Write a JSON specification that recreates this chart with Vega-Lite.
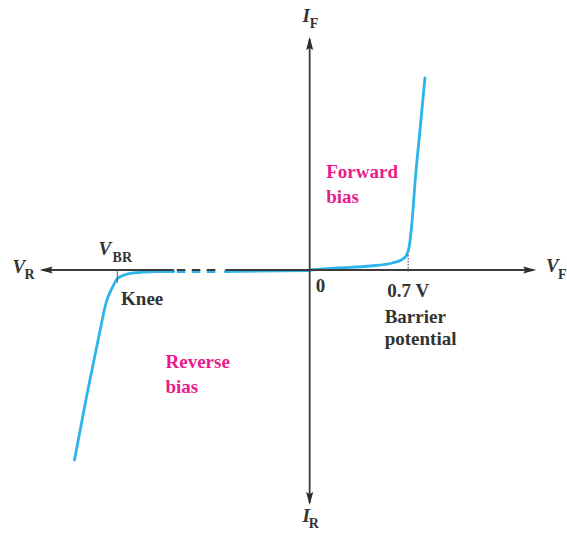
{
  "$schema": "https://vega.github.io/schema/vega-lite/v6.json",
  "width": 567,
  "height": 533,
  "autosize": {"type": "fit", "contains": "padding"},
  "padding": 0,
  "background": "white",
  "config": {"view": {"stroke": null}},
  "datasets": {
    "curve": [
      {"series": "forward", "x": 0, "y": 0},
      {"series": "forward", "x": 0.198, "y": 0.2},
      {"series": "forward", "x": 0.431, "y": 0.4},
      {"series": "forward", "x": 0.587, "y": 0.7},
      {"series": "forward", "x": 0.65, "y": 1.0},
      {"series": "forward", "x": 0.685, "y": 1.4},
      {"series": "forward", "x": 0.707, "y": 2.3},
      {"series": "forward", "x": 0.724, "y": 4.3},
      {"series": "forward", "x": 0.752, "y": 9.3},
      {"series": "forward", "x": 0.786, "y": 14.3},
      {"series": "forward", "x": 0.819, "y": 19.2},
      {"series": "leakage", "x": -0.599, "y": -0.15},
      {"series": "leakage", "x": 0, "y": -0.05},
      {"series": "breakdown", "x": -1.671, "y": -19.0},
      {"series": "breakdown", "x": -1.58, "y": -12.3},
      {"series": "breakdown", "x": -1.484, "y": -5.7},
      {"series": "breakdown", "x": -1.447, "y": -3.3},
      {"series": "breakdown", "x": -1.4, "y": -1.7},
      {"series": "breakdown", "x": -1.365, "y": -0.85},
      {"series": "breakdown", "x": -1.306, "y": -0.45},
      {"series": "breakdown", "x": -1.212, "y": -0.25},
      {"series": "breakdown", "x": -1.1, "y": -0.17},
      {"series": "breakdown", "x": -0.965, "y": -0.15}
    ],
    "curveBreak": [
      {"series": "scale break", "x": -0.944, "y": -0.15},
      {"series": "scale break", "x": -0.669, "y": -0.15}
    ],
    "axes": [
      {"part": "V axis left", "x": -1.9, "x2": -0.965, "y": 0, "y2": 0},
      {"part": "V axis right", "x": -0.599, "x2": 1.59, "y": 0, "y2": 0},
      {"part": "I axis", "x": 0, "x2": 0, "y": -23.3, "y2": 23.1}
    ],
    "axisBreak": [
      {"part": "V axis break", "x": -0.944, "x2": -0.669, "y": 0, "y2": 0}
    ],
    "arrows": [
      {"end": "VF", "direction": "right", "x": 1.564, "y": 0},
      {"end": "VR", "direction": "left", "x": -1.872, "y": 0},
      {"end": "IF", "direction": "up", "x": 0, "y": 22.65},
      {"end": "IR", "direction": "down", "x": 0, "y": -22.85}
    ],
    "markers": [
      {"name": "breakdown voltage", "x": -1.367, "x2": -1.367, "y": 0, "y2": -1.3}
    ],
    "barrier": [
      {"name": "barrier potential", "x": 0.7, "x2": 0.7, "y": 1.5, "y2": -0.2}
    ],
    "labels": [
      {"kind": "note", "text": "Knee", "x": -1.34, "y": -3.5},
      {"kind": "note", "text": "0", "x": 0.043, "y": -2.2},
      {"kind": "note", "text": "Barrier", "x": 0.533, "y": -5.3},
      {"kind": "note", "text": "potential", "x": 0.533, "y": -7.5},
      {"kind": "region", "text": "Forward", "x": 0.118, "y": 9.2},
      {"kind": "region", "text": "bias", "x": 0.118, "y": 6.7},
      {"kind": "region", "text": "Reverse", "x": -1.024, "y": -9.8},
      {"kind": "region", "text": "bias", "x": -1.024, "y": -12.3},
      {"kind": "symbol", "text": "V", "x": -1.5, "y": 1.5},
      {"kind": "subscript", "text": "BR", "x": -1.4, "y": 0.85},
      {"kind": "symbol", "text": "V", "x": -2.112, "y": -0.3},
      {"kind": "subscript", "text": "R", "x": -2.026, "y": -0.85},
      {"kind": "symbol", "text": "V", "x": 1.68, "y": -0.2},
      {"kind": "subscript", "text": "F", "x": 1.765, "y": -0.85},
      {"kind": "symbol", "text": "I", "x": -0.05, "y": 24.8},
      {"kind": "subscript", "text": "F", "x": 0.001, "y": 24.25},
      {"kind": "symbol", "text": "I", "x": -0.05, "y": -25.2},
      {"kind": "subscript", "text": "R", "x": -0.006, "y": -25.75}
    ],
    "valueLabels": [
      {"text": "0.7 V", "x": 0.7, "y": -2.7}
    ]
  },
  "encoding": {
    "x": {"field": "x", "type": "quantitative", "scale": {"domain": [-2.2, 1.8], "nice": false, "zero": false}, "axis": null},
    "y": {"field": "y", "type": "quantitative", "scale": {"domain": [-26.3, 27.0], "nice": false, "zero": false}, "axis": null}
  },
  "layer": [
    {
      "data": {"name": "curve"},
      "mark": {"type": "line", "interpolate": "monotone", "color": "#2db4ec", "strokeWidth": 2.8, "strokeCap": "round"},
      "encoding": {"detail": {"field": "series", "type": "nominal"}}
    },
    {
      "data": {"name": "curveBreak"},
      "mark": {"type": "line", "color": "#2db4ec", "strokeWidth": 2.8, "strokeDash": [8.5, 6.5]},
      "encoding": {"detail": {"field": "series", "type": "nominal"}}
    },
    {
      "data": {"name": "axes"},
      "mark": {"type": "rule", "color": "#3c3c3c", "strokeWidth": 1.8},
      "encoding": {"x2": {"field": "x2"}, "y2": {"field": "y2"}}
    },
    {
      "data": {"name": "axisBreak"},
      "mark": {"type": "rule", "color": "#3c3c3c", "strokeWidth": 1.8, "strokeDash": [8.5, 6.5]},
      "encoding": {"x2": {"field": "x2"}, "y2": {"field": "y2"}}
    },
    {
      "data": {"name": "markers"},
      "mark": {"type": "rule", "color": "#555555", "strokeWidth": 1},
      "encoding": {"x2": {"field": "x2"}, "y2": {"field": "y2"}}
    },
    {
      "data": {"name": "barrier"},
      "mark": {"type": "rule", "color": "#555555", "strokeWidth": 1.2, "strokeDash": [1.5, 1.5]},
      "encoding": {"x2": {"field": "x2"}, "y2": {"field": "y2"}}
    },
    {
      "data": {"name": "arrows"},
      "mark": {"type": "point", "filled": true, "color": "#2e2e2e", "opacity": 1, "size": 169},
      "encoding": {
        "shape": {
          "field": "direction",
          "type": "nominal",
          "scale": {
            "domain": ["right", "left", "up", "down"],
            "range": [
              "M1,0L-1,-0.55L-0.7,0L-1,0.55Z",
              "M-1,0L1,-0.55L0.7,0L1,0.55Z",
              "M0,-1L-0.55,1L0,0.7L0.55,1Z",
              "M0,1L-0.55,-1L0,-0.7L0.55,-1Z"
            ]
          },
          "legend": null
        }
      }
    },
    {
      "data": {"name": "labels"},
      "transform": [{"filter": "datum.kind === 'note'"}],
      "mark": {"type": "text", "align": "left", "baseline": "alphabetic", "font": "Liberation Serif", "fontWeight": "bold", "fontSize": 19, "color": "#333333"},
      "encoding": {"text": {"field": "text"}}
    },
    {
      "data": {"name": "valueLabels"},
      "mark": {"type": "text", "align": "center", "baseline": "alphabetic", "font": "Liberation Serif", "fontWeight": "bold", "fontSize": 19, "color": "#333333"},
      "encoding": {"text": {"field": "text"}}
    },
    {
      "data": {"name": "labels"},
      "transform": [{"filter": "datum.kind === 'region'"}],
      "mark": {"type": "text", "align": "left", "baseline": "alphabetic", "font": "Liberation Serif", "fontWeight": "bold", "fontSize": 19, "color": "#ea1a8c"},
      "encoding": {"text": {"field": "text"}}
    },
    {
      "data": {"name": "labels"},
      "transform": [{"filter": "datum.kind === 'symbol'"}],
      "mark": {"type": "text", "align": "left", "baseline": "alphabetic", "font": "Liberation Serif", "fontWeight": "bold", "fontStyle": "italic", "fontSize": 19, "color": "#333333"},
      "encoding": {"text": {"field": "text"}}
    },
    {
      "data": {"name": "labels"},
      "transform": [{"filter": "datum.kind === 'subscript'"}],
      "mark": {"type": "text", "align": "left", "baseline": "alphabetic", "font": "Liberation Serif", "fontWeight": "bold", "fontSize": 14, "color": "#333333"},
      "encoding": {"text": {"field": "text"}}
    }
  ]
}
